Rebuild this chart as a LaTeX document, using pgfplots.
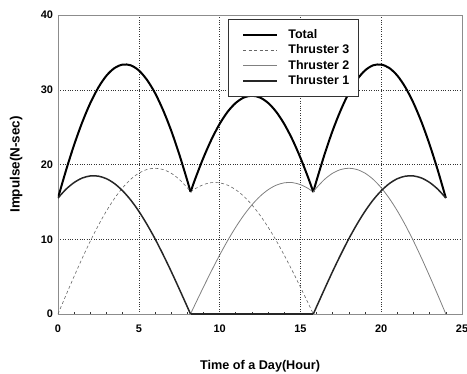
\documentclass[border=0pt]{standalone}
\usepackage{pgfplots}
\pgfplotsset{compat=1.18}
\usepackage{fontspec}
\setmainfont{Liberation Sans}
\begin{document}
\begin{tikzpicture}
\begin{axis}[
  scale only axis,
  width=404bp, height=299bp,
  xmin=0, xmax=25, ymin=0, ymax=40,
  xtick={0,5,...,25}, ytick={0,10,...,40},
  minor x tick num=4,
  major tick length=0pt,
  minor tick length=2.5bp,
  tick align=inside,
  xtick pos=bottom, ytick pos=left,
  axis line style={draw=black!45, line width=0.9bp},
  minor tick style={black!80, line width=0.6bp},
  grid=major,
  major grid style={black!80, dotted, line width=0.5bp},
  font=\fontsize{12.5}{15}\selectfont\bfseries,
  /pgf/number format/assume math mode=true,
  ticklabel style={font=\fontsize{11}{13}\selectfont\bfseries},
  xticklabel style={yshift=-7.5bp},
  yticklabel style={xshift=-1.5bp},
  xlabel={Time of a Day(Hour)},
  ylabel={Impulse(N-sec)},
  xlabel style={at={(axis description cs:0.5,0)}, anchor=base, yshift=-55bp, font=\fontsize{12.7}{15}\selectfont\bfseries},
  ylabel style={at={(axis description cs:0,0.5)}, anchor=base, yshift=38.3bp, font=\fontsize{13.5}{16}\selectfont\bfseries},
  legend style={at={(0.421,0.986)}, anchor=north west, draw=black!80, line width=0.7bp,
    inner xsep=8bp, inner ysep=9bp, row sep=2.3bp, column sep=9.3bp,
    font=\fontsize{12.5}{15}\selectfont\bfseries,
    nodes={inner sep=1bp, text height=9bp, text depth=2bp}},
  legend cell align=left,
  legend image code/.code={\path (0bp,0bp); \draw[#1] (5.7bp,0bp) -- (39.7bp,0bp);},
]
% Total
\addplot[black, line width=2bp, smooth] coordinates {
(0,15.52)(0.5,19.24)(1,22.64)(1.5,25.65)(2,28.22)(2.5,30.31)(3,31.89)(3.5,32.91)(4,33.37)(4.5,33.27)(5,32.59)(5.5,31.34)(6,29.58)(6.5,27.29)(7,24.56)(7.5,21.39)(8,17.86)(8.2,16.35)};
\addlegendentry{Total}
% Thruster 3
\addplot[black!60, dash pattern=on 3bp off 2.5bp, line width=0.6bp, smooth] coordinates {
(0,0)(0.5,2.55)(1,5.05)(1.5,7.46)(2,9.75)(2.5,11.87)(3,13.79)(3.5,15.47)(4,16.89)(4.5,18.02)(5,18.84)(5.5,19.33)(6,19.5)(6.5,19.33)(7,18.84)(7.5,18.02)(8,16.89)(8.2,16.35)};
\addlegendentry{Thruster 3}
% Thruster 2
\addplot[black!50, line width=0.8bp, smooth] coordinates {
(8.2,0)(8.5,1.36)(9,3.60)(9.5,5.78)(10,7.87)(10.5,9.83)(11,11.62)(11.5,13.22)(12,14.60)(12.5,15.74)(13,16.62)(13.5,17.23)(14,17.55)(14.5,17.58)(15,17.31)(15.5,16.77)(15.8,16.30)};
\addlegendentry{Thruster 2}
% Thruster 1
\addplot[black!85, line width=1.5bp, smooth] coordinates {
(0,15.52)(0.5,16.70)(1,17.59)(1.5,18.19)(2,18.47)(2.5,18.44)(3,18.10)(3.5,17.44)(4,16.48)(4.5,15.25)(5,13.75)(5.5,12.01)(6,10.08)(6.5,7.96)(7,5.72)(7.5,3.37)(8,0.97)(8.2,0)};
\addlegendentry{Thruster 1}
% remaining segments
\addplot[black, line width=2bp, smooth, forget plot] coordinates {
(8.2,16.30)(8.5,18.13)(9,20.91)(9.5,23.36)(10,25.42)(10.5,27.06)(11,28.24)(11.5,28.96)(12,29.20)(12.5,28.96)(13,28.24)(13.5,27.06)(14,25.42)(14.5,23.36)(15,20.91)(15.5,18.13)(15.8,16.30)};
\addplot[black, line width=2bp, smooth, forget plot] coordinates {
(15.8,16.35)(16,17.86)(16.5,21.39)(17,24.56)(17.5,27.29)(18,29.58)(18.5,31.34)(19,32.59)(19.5,33.27)(20,33.37)(20.5,32.91)(21,31.89)(21.5,30.31)(22,28.22)(22.5,25.65)(23,22.64)(23.5,19.24)(24,15.52)};
\addplot[black!60, dash pattern=on 3bp off 2.5bp, line width=0.6bp, smooth, forget plot] coordinates {
(8.2,16.30)(8.5,16.77)(9,17.31)(9.5,17.58)(10,17.55)(10.5,17.23)(11,16.62)(11.5,15.74)(12,14.60)(12.5,13.22)(13,11.62)(13.5,9.83)(14,7.87)(14.5,5.78)(15,3.60)(15.5,1.36)(15.8,0)};
\addplot[black!50, line width=0.8bp, smooth, forget plot] coordinates {
(15.8,16.35)(16,16.89)(16.5,18.02)(17,18.84)(17.5,19.33)(18,19.5)(18.5,19.33)(19,18.84)(19.5,18.02)(20,16.89)(20.5,15.47)(21,13.79)(21.5,11.87)(22,9.75)(22.5,7.46)(23,5.05)(23.5,2.55)(24,0)};
\addplot[black!85, line width=1.5bp, forget plot] coordinates {(8.2,0)(15.8,0)};
\addplot[black!85, line width=1.5bp, smooth, forget plot] coordinates {
(15.8,0)(16,0.97)(16.5,3.37)(17,5.72)(17.5,7.96)(18,10.08)(18.5,12.01)(19,13.75)(19.5,15.25)(20,16.48)(20.5,17.44)(21,18.10)(21.5,18.44)(22,18.47)(22.5,18.19)(23,17.59)(23.5,16.70)(24,15.52)};
\end{axis}
\pgfresetboundingbox
\path (-58bp,-60bp) rectangle (409bp,314bp);
\end{tikzpicture}
\end{document}
